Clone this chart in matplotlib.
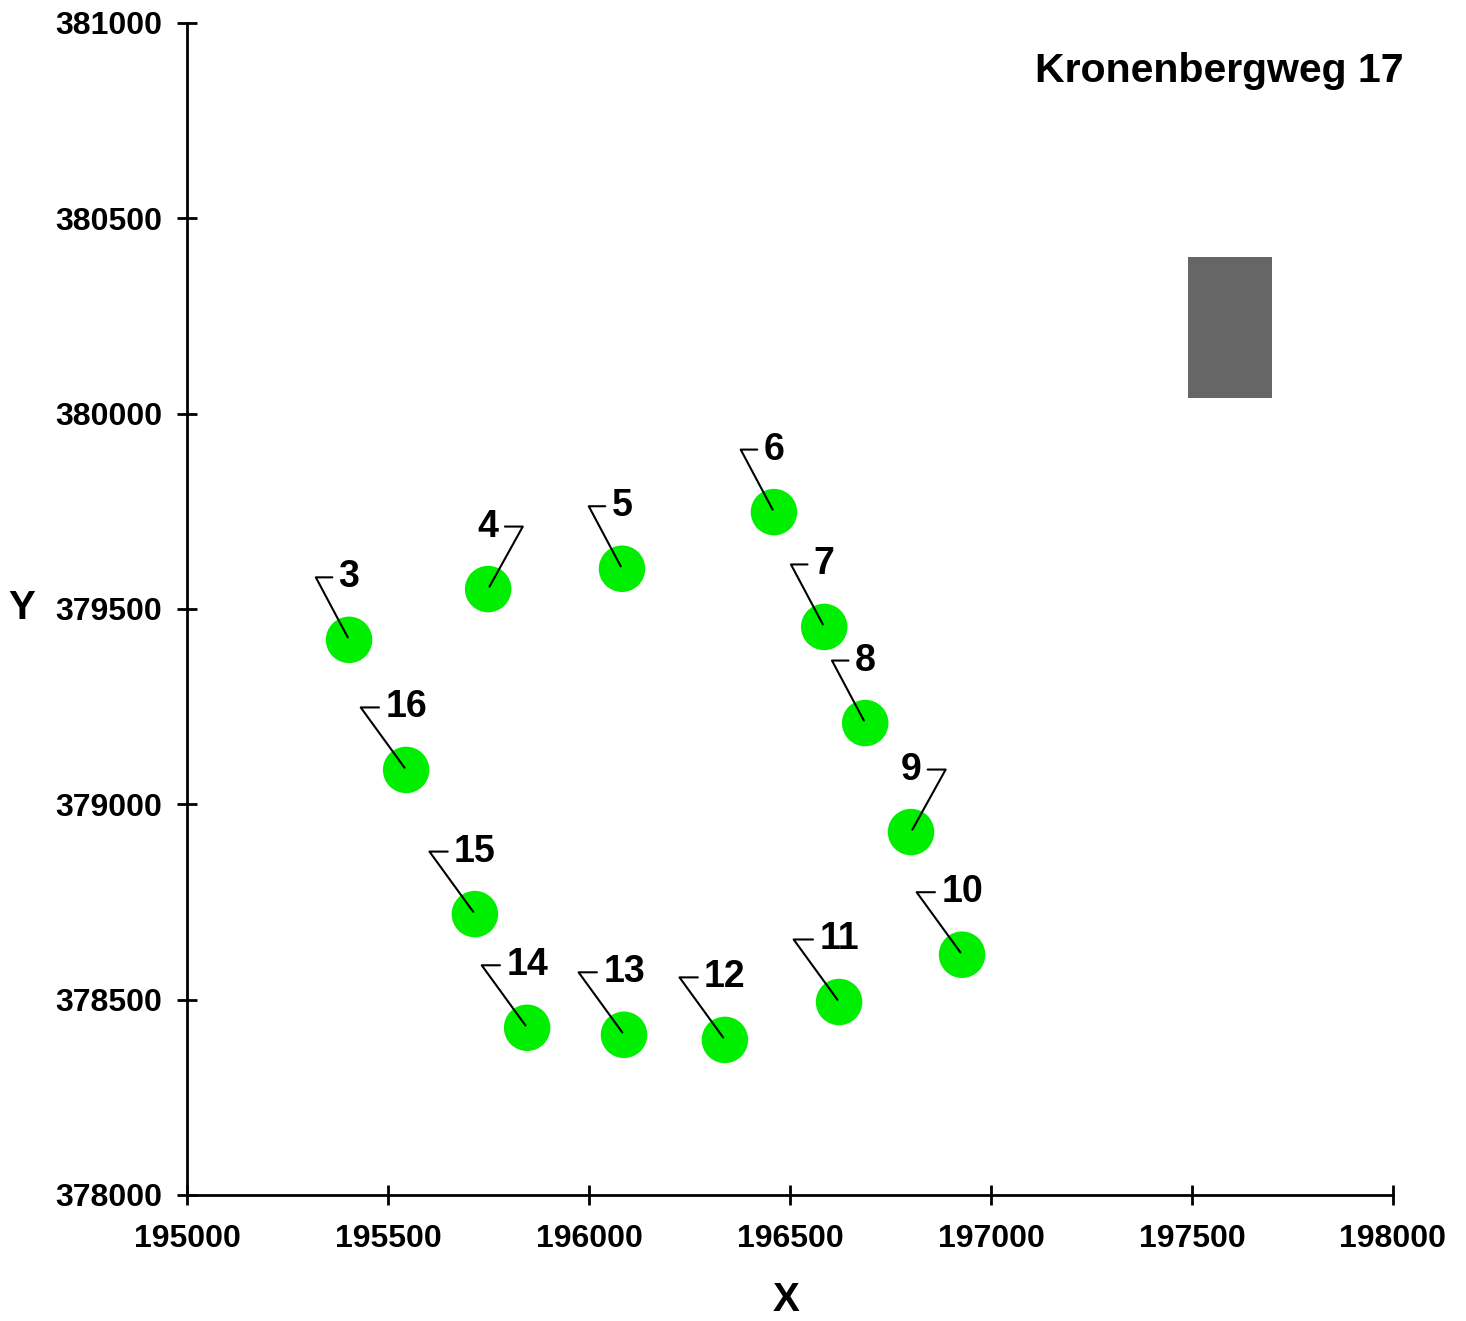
import matplotlib.pyplot as plt
import numpy as np

plt.rcParams['font.family'] = ['Liberation Sans', 'DejaVu Sans']
plt.rcParams['font.weight'] = 'bold'

# point ids and coordinates
labels = ["3", "4", "5", "6", "7", "8", "9", "10", "11", "12", "13", "14", "15", "16"]
x_pts = [195403, 195749, 196082, 196460, 196585, 196687, 196801, 196928,
         196622, 196338, 196087, 195846, 195716, 195545]
y_pts = [379421, 379551, 379603, 379748, 379454, 379208, 378929, 378615,
         378494, 378397, 378410, 378428, 378719, 379088]

# labels whose leader goes to the right side
right_side = ["4", "9"]

# building block (grey rectangle)
rect_x = [197490, 197700]
rect_y = [380040, 380400]

title = "Kronenbergweg 17"

fig = plt.figure(figsize=(14.66, 13.21), dpi=100)
ax = fig.add_axes([0.1276, 0.0954, 0.8226, 0.8872])

ax.bar(rect_x[0], rect_y[1] - rect_y[0], width=rect_x[1] - rect_x[0],
       bottom=rect_y[0], align='edge', color='#666666', zorder=2)

ax.scatter(x_pts, y_pts, s=1120, color='#00ee00', edgecolors='none', zorder=3)

for lab, xp, yp in zip(labels, x_pts, y_pts):
    if lab in right_side:
        rel = (1, 0.5)
        angB = 61
    elif len(lab) == 1:
        rel = (0, 0.5)
        angB = 118
    else:
        rel = (0, 0.5)
        angB = 126
    ax.annotate(lab, (xp, yp), xytext=(0, 45), textcoords='offset points',
                ha='center', va='center', fontsize=27, fontweight='bold',
                zorder=4,
                arrowprops=dict(arrowstyle='-', color='black', lw=1.5,
                                connectionstyle="angle,angleA=0,angleB=%d,rad=0" % angB,
                                relpos=rel, shrinkA=2.5, shrinkB=2))

ax.set_xlim(195000, 198000)
ax.set_ylim(378000, 381000)
ax.set_xticks(np.arange(195000, 198001, 500))
ax.set_yticks(np.arange(378000, 381001, 500))
ax.spines['top'].set_visible(False)
ax.spines['right'].set_visible(False)
ax.spines['left'].set_linewidth(2)
ax.spines['bottom'].set_linewidth(2)
ax.tick_params(direction='inout', length=14, width=2, labelsize=23)
ax.tick_params(axis='x', pad=14)
ax.tick_params(axis='y', pad=11)

ax.set_xlabel("X", fontsize=29, fontweight='bold')
ax.set_ylabel("Y", fontsize=29, fontweight='bold', rotation=0)
ax.xaxis.set_label_coords(0.4967, -0.0896)
ax.yaxis.set_label_coords(-0.1368, 0.5009)
ax.xaxis.label.set_va('center')
ax.yaxis.label.set_va('center')

ax.text(0.856, 0.959, title, transform=ax.transAxes, ha='center', va='center',
        fontsize=29.5, fontweight='bold')

plt.savefig("out.png", dpi=100)
